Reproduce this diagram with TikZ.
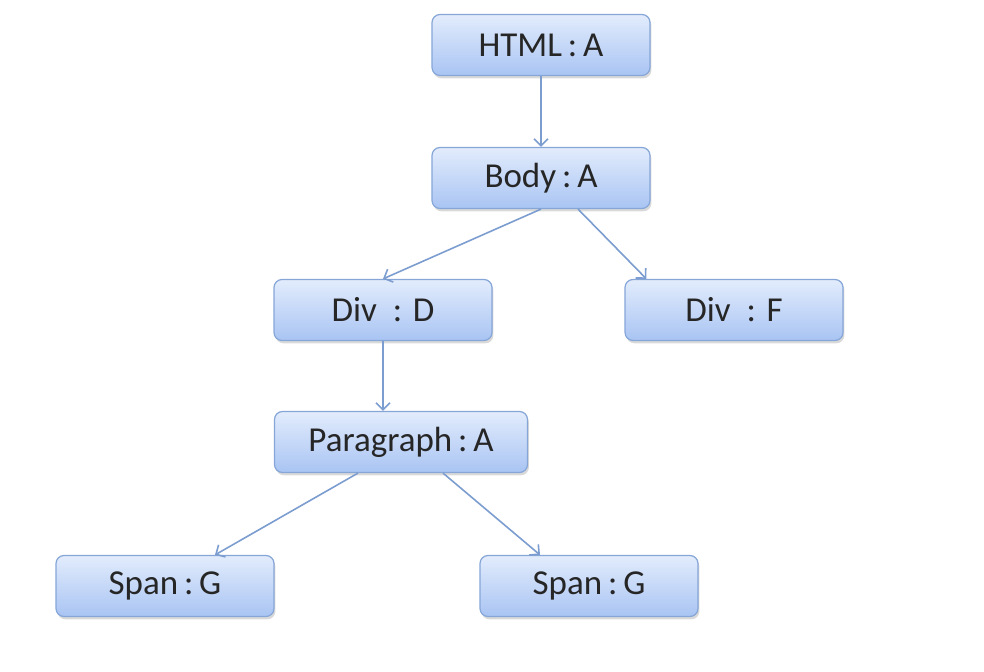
\documentclass[tikz,border=0pt]{standalone}
\usepackage{fontspec}
\setmainfont{Carlito}
\usetikzlibrary{shapes,arrows,arrows.meta,shadows,calc}
\definecolor{boxtop}{HTML}{E2ECFC}
\definecolor{boxbot}{HTML}{A9C4F3}
\definecolor{boxline}{HTML}{86A6D8}
\definecolor{arrowcol}{HTML}{7C9DCF}
\definecolor{textcol}{HTML}{262626}
\tikzstyle{block} = [rectangle, draw=boxline, line width=0.6pt, top color=boxtop, bottom color=boxbot,
    minimum width=109pt, minimum height=30.5pt, rounded corners=4pt, text=textcol,
    font=\fontsize{17.5}{21}\selectfont,
    drop shadow={shadow xshift=0.7pt, shadow yshift=-1.4pt, opacity=0.3}]
\tikzstyle{line} = [draw=arrowcol, line width=0.8pt, -{Straight Barb[length=3.5pt,width=7pt]}]
\begin{document}
\begin{tikzpicture}[x=0.5pt, y=-0.5pt]
    \useasboundingbox (0,0) rectangle (984,672);
    % Place nodes
    \node [block] (html) at (541,45) {HTML\,:\,A};
    \node [block] (body) at (541,178) {Body\,:\,A};
    \node [block] (divd) at (383,310) {Div~ : D};
    \node [block] (divf) at (734,310) {Div~ : F};
    \node [block, minimum width=126.5pt] (para) at (401,442) {Paragraph\,:\,A};
    \node [block] (spanl) at (165,586) {Span\,:\,G};
    \node [block] (spanr) at (589,586) {Span\,:\,G};
    % Draw edges
    \path [line] (html) -- (body);
    \path [line] (body.south) -- (divd.north);
    \path [line] ([xshift=18.5pt]body.south) -- ([xshift=11pt]divf.north west);
    \path [line] (divd.south) -- (divd.south |- para.north);
    \path [line] ([xshift=-21.5pt]para.south) -- ([xshift=25pt]spanl.north);
    \path [line] ([xshift=21pt]para.south) -- ([xshift=-24.5pt]spanr.north);
\end{tikzpicture}
\end{document}
